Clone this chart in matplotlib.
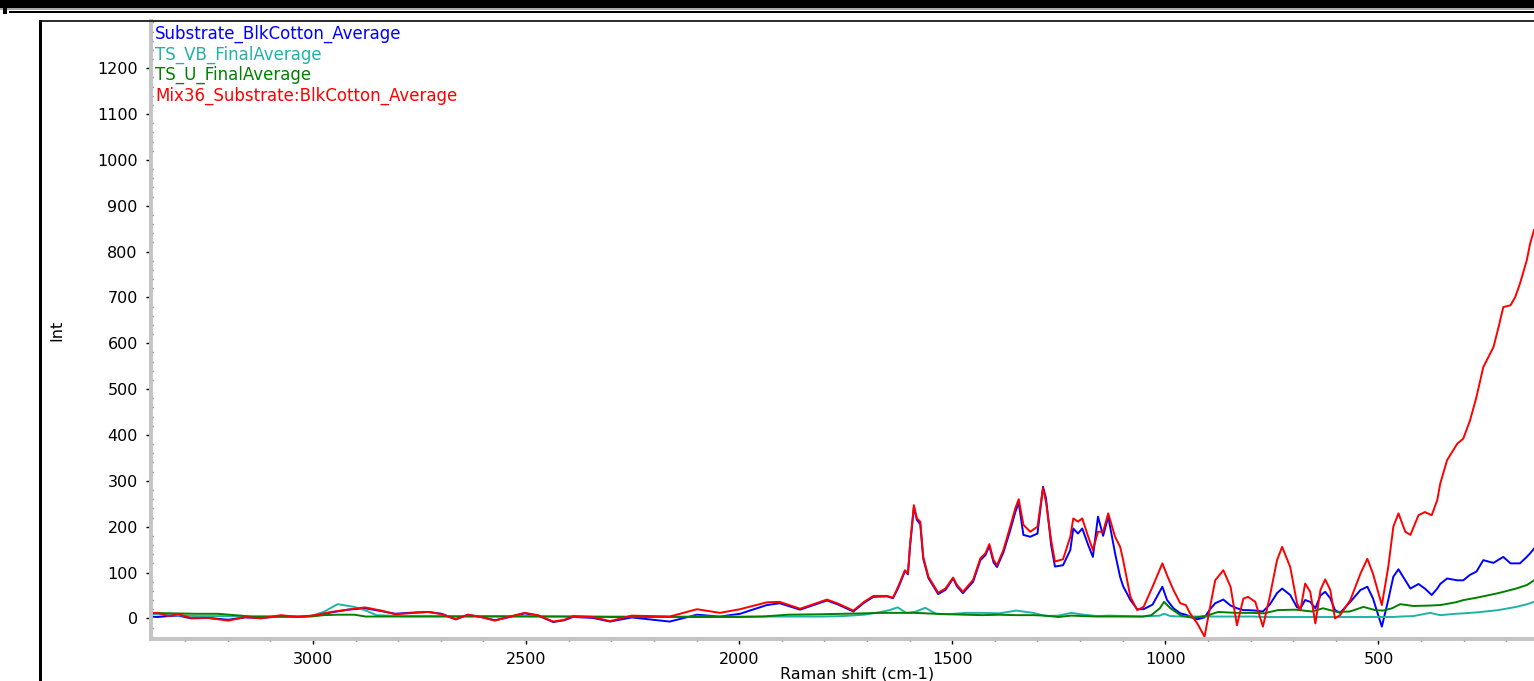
import matplotlib

matplotlib.use("Agg")

import matplotlib.pyplot as plt
from matplotlib.patches import Rectangle
from matplotlib.ticker import MultipleLocator

# Raman shift (cm-1) for the two cotton spectra
wn_cotton = [3386, 3364, 3340, 3316, 3286, 3246, 3199, 3159, 3122, 3075, 3035, 2995, 2957, 2918, 2878,
             2840, 2807, 2759, 2729, 2698, 2665, 2636, 2606, 2573, 2543, 2503, 2472, 2436, 2410, 2390,
             2343, 2303, 2252, 2163, 2099, 2045, 1998, 1935, 1905, 1857, 1794, 1770, 1732, 1707, 1685,
             1653, 1639, 1627, 1611, 1604, 1599, 1590, 1583, 1575, 1568, 1556, 1533, 1516, 1498, 1489,
             1475, 1451, 1434, 1422, 1413, 1403, 1395, 1380, 1364, 1352, 1344, 1333, 1317, 1300, 1287,
             1280, 1268, 1259, 1240, 1223, 1216, 1205, 1195, 1181, 1170, 1158, 1146, 1134, 1118, 1106,
             1099, 1082, 1066, 1051, 1030, 1007, 996, 981, 965, 952, 942, 925, 908, 895, 883,
             864, 847, 832, 817, 806, 789, 771, 755, 738, 726, 707, 691, 683, 672, 660,
             648, 636, 625, 613, 602, 590, 566, 542, 526, 513, 492, 477, 465, 453, 437,
             425, 406, 391, 375, 362, 355, 339, 315, 301, 285, 270, 254, 242, 230, 218,
             207, 190, 179, 168, 152, 144, 135]

mix36 = [12, 12, 5, 9, 1, 1, -5, 3, 0, 7, 3, 7, 14, 19, 24,
         17, 9, 12, 14, 9, -2, 8, 3, -5, 3, 12, 7, -7, -3, 5,
         3, -6, 6, 4, 20, 12, 20, 35, 36, 21, 41, 33, 17, 36, 49,
         49, 45, 69, 105, 98, 160, 247, 218, 211, 134, 91, 56, 65, 89, 73,
         58, 84, 131, 142, 162, 127, 116, 149, 200, 240, 260, 204, 189, 200, 284,
         254, 171, 124, 129, 178, 218, 211, 218, 178, 149, 189, 189, 229, 178, 156,
         127, 47, 18, 25, 69, 120, 94, 62, 33, 29, 11, -11, -40, 25, 83,
         105, 69, -15, 43, 47, 36, -18, 47, 127, 156, 112, 33, 18, 76, 58,
         -11, 62, 85, 62, 0, 7, 40, 98, 130, 98, 29, 112, 200, 229, 189,
         182, 225, 232, 225, 258, 294, 345, 381, 392, 432, 483, 548, 570, 592, 636,
         679, 683, 701, 730, 781, 818, 847]

substrate = [4, 3, 5, 6, 0, 1, -3, 2, 1, 4, 3, 6, 13, 19, 22,
             16, 10, 13, 14, 10, -2, 8, 3, -4, 2, 11, 6, -8, -4, 3,
             1, -7, 2, -7, 8, 4, 10, 29, 33, 19, 39, 31, 15, 34, 47,
             48, 44, 66, 103, 96, 158, 242, 215, 205, 130, 88, 53, 62, 87, 70,
             55, 80, 127, 138, 158, 122, 112, 144, 192, 232, 252, 182, 178, 185, 287,
             262, 160, 113, 116, 149, 196, 185, 196, 160, 134, 222, 180, 222, 142, 90,
             70, 40, 20, 20, 30, 69, 40, 22, 11, 8, 4, -2, 2, 20, 33,
             41, 28, 22, 18, 18, 17, 15, 30, 55, 65, 51, 24, 22, 40, 36,
             22, 50, 58, 44, 18, 12, 36, 62, 69, 44, -18, 40, 91, 107, 83,
             65, 75, 65, 51, 65, 75, 87, 83, 83, 95, 102, 127, 124, 121, 128,
             134, 120, 120, 120, 134, 142, 152]

# Raman shift (cm-1) for the two TS averages
wn_ts = [3386, 3332, 3273, 3223, 3144, 3055, 3005, 2975, 2942, 2903, 2876, 2851, 2797, 2698, 2599,
         2500, 2400, 2301, 2202, 2103, 2004, 1945, 1885, 1806, 1756, 1707, 1667, 1647, 1628, 1608,
         1588, 1563, 1538, 1508, 1469, 1429, 1389, 1350, 1310, 1281, 1251, 1221, 1191, 1162, 1132,
         1092, 1053, 1033, 1013, 1003, 988, 963, 934, 902, 876, 835, 795, 768, 736, 696,
         656, 630, 597, 567, 535, 508, 490, 468, 449, 418, 379, 355, 319, 300, 270,
         219, 177, 151, 135]

ts_vb = [10, 7, 5, 5, 4, 4, 5, 14, 31, 25, 17, 7, 5, 5, 5,
         5, 4, 4, 4, 4, 4, 4, 4, 4, 5, 8, 14, 18, 24, 12,
         14, 23, 10, 9, 12, 12, 11, 17, 12, 5, 6, 12, 8, 5, 6,
         5, 4, 5, 6, 10, 5, 4, 4, 4, 4, 4, 4, 3, 3, 3,
         3, 3, 3, 3, 3, 3, 3, 3, 4, 5, 12, 7, 10, 11, 13,
         18, 25, 31, 36]

ts_u = [12, 11, 10, 10, 4, 4, 4, 7, 8, 8, 4, 4, 4, 4, 4,
        4, 4, 3, 3, 3, 3, 4, 8, 9, 10, 11, 12, 12, 12, 12,
        12, 11, 10, 9, 8, 7, 8, 7, 7, 6, 3, 6, 5, 4, 4,
        4, 4, 7, 22, 36, 22, 6, 1, 6, 14, 12, 12, 11, 18, 19,
        15, 22, 14, 15, 25, 18, 17, 22, 31, 27, 28, 29, 35, 40, 45,
        55, 65, 73, 83]

series_names = ["Substrate_BlkCotton_Average", "TS_VB_FinalAverage",
                "TS_U_FinalAverage", "Mix36_Substrate:BlkCotton_Average"]
series_colors = ["#0000ff", "#20b2a6", "#008000", "#ff0000"]

W, H = 1534, 681
FONT = "DejaVu Sans"


def band(x0, y0, x1, y1, color):
    # filled strip given in pixel coordinates (origin top-left)
    fig.add_artist(Rectangle((x0 / W, 1 - y1 / H), (x1 - x0) / W, (y1 - y0) / H,
                             transform=fig.transFigure, color=color, lw=0))


fig = plt.figure(figsize=(W / 100, H / 100), dpi=100)
ax = fig.add_axes([151 / W, 1 - 639 / H, 1 - 151 / W, (639 - 21) / H])

series = [(wn_cotton, substrate), (wn_ts, ts_vb), (wn_ts, ts_u), (wn_cotton, mix36)]
for (wn, vals), color in zip(series, series_colors):
    ax.plot(wn, vals, color=color, lw=1.4)

ax.set_xlim(3380, 135)
ax.set_ylim(-45, 1303)

ax.xaxis.set_minor_locator(MultipleLocator(100))
ax.yaxis.set_minor_locator(MultipleLocator(20))
ax.set_xticks([3000, 2500, 2000, 1500, 1000, 500])
ax.set_yticks(range(0, 1201, 100))

for side in ["top", "right"]:
    ax.spines[side].set_visible(False)
for side in ["left", "bottom"]:
    ax.spines[side].set_color("#c4c4c4")
    ax.spines[side].set_linewidth(2.8)

ax.tick_params(axis="both", which="major", direction="out", length=3.5, width=1, color="black",
               labelsize=11.5, pad=6)
ax.tick_params(axis="both", which="minor", direction="inout", length=2.5, width=1, color="#333333")
for lab in ax.get_xticklabels() + ax.get_yticklabels():
    lab.set_fontfamily(FONT)

# colored series names in the upper left corner
for i, (name, color) in enumerate(zip(series_names, series_colors)):
    fig.text(155 / W, 1 - (34 + 20.5 * i) / H, name, color=color, fontsize=12,
             family=FONT, va="center", ha="left")

fig.text(857 / W, 1 - 674 / H, "Raman shift (cm-1)", fontsize=11.5, family=FONT,
         ha="center", va="center")
fig.text(57 / W, 1 - 330 / H, "Int", fontsize=11.5, family=FONT, rotation=90,
         ha="center", va="center")

# window frame around the plot
band(0, 0, W, 8, "black")
band(0, 8, W, 9.5, "#a8a8a8")
band(9, 11, W, 13, "black")
band(3, 0, 7, 14, "black")
band(39, 20, W, 22, "#303030")
band(39, 20, 42, H, "black")

fig.savefig("out.png", dpi=100)
